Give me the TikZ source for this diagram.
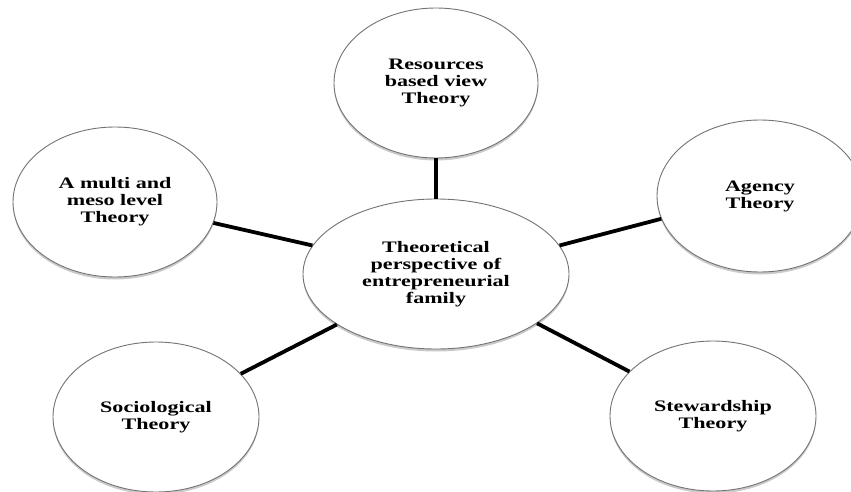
\documentclass[tikz,border=0pt]{standalone}
\usepackage{fontspec}
\setmainfont{Liberation Serif}[FakeStretch=1.38]
\usetikzlibrary{shapes.geometric,shadows}
\tikzset{
  theory/.style={ellipse, draw=black!55, line width=0.9pt, fill=white,
    inner sep=0pt, align=center, font=\fontsize{16}{17}\selectfont\bfseries,
    drop shadow={shadow xshift=0pt, shadow yshift=-2.5pt, opacity=0.35, fill=black!60}},
  link/.style={line width=3.8pt, black}
}
\begin{document}
\begin{tikzpicture}[x=1pt,y=1pt]
\useasboundingbox (0,0) rectangle (851,491);
\node[theory, minimum width=266pt, minimum height=150pt] (c) at (436,217)
  {Theoretical\\perspective of\\entrepreneurial\\family};
\node[theory, minimum width=204pt, minimum height=150pt] (r) at (436,408)
  {Resources\\based view\\Theory};
\node[theory, minimum width=204pt, minimum height=150pt] (m) at (115,289)
  {A multi and\\meso level\\Theory};
\node[theory, minimum width=206pt, minimum height=152pt] (a) at (760,295)
  {Agency\\Theory};
\node[theory, minimum width=206pt, minimum height=150pt] (s) at (156,74)
  {Sociological\\Theory};
\node[theory, minimum width=206pt, minimum height=150pt] (w) at (713,75)
  {Stewardship\\Theory};
\draw[link] (r.south) -- (c.north);
\draw[link] (m.-12.3) -- (c.167.5);
\draw[link] (a.193.8) -- (c.13.4);
\draw[link] (s.27.6) -- (c.207.7);
\draw[link] (w.152.6) -- (c.-26.8);
\end{tikzpicture}
\end{document}
